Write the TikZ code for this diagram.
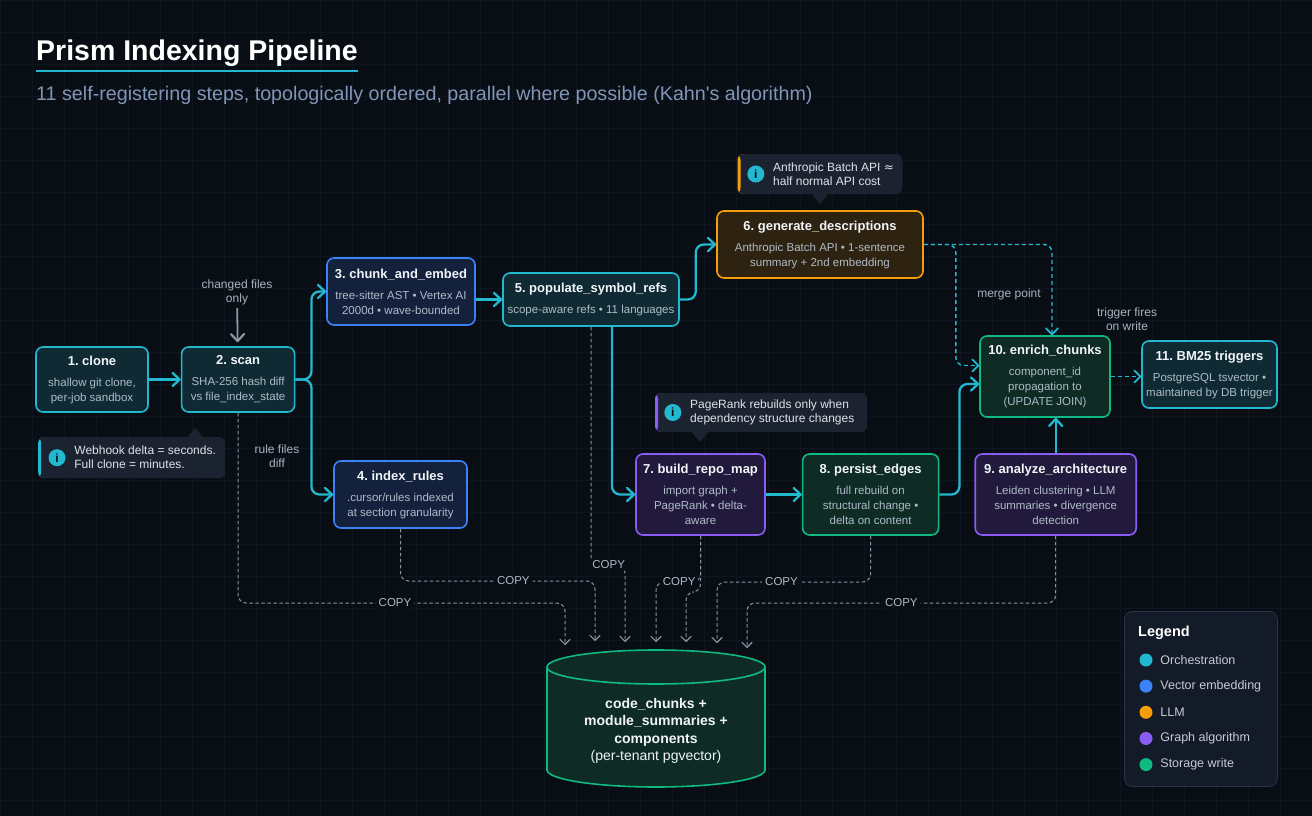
\documentclass[tikz,border=0pt]{standalone}
\usepackage{fontspec}
\setmainfont{Liberation Sans}
\newfontfamily\symfont{DejaVu Sans}
\usepackage{tikz}
\usetikzlibrary{positioning, arrows.meta}

\definecolor{bg}{HTML}{090D14}
\definecolor{gridc}{HTML}{0F1621}
\definecolor{orchc}{HTML}{22B8CF}
\definecolor{orchfill}{HTML}{0F2A33}
\definecolor{vecc}{HTML}{3B82F6}
\definecolor{vecfill}{HTML}{13213D}
\definecolor{llmc}{HTML}{F59E0B}
\definecolor{llmfill}{HTML}{2E2210}
\definecolor{graphc}{HTML}{8B5CF6}
\definecolor{graphfill}{HTML}{221A3C}
\definecolor{storec}{HTML}{10B981}
\definecolor{storefill}{HTML}{0E2B24}
\definecolor{headc}{HTML}{F1F5F9}
\definecolor{bodytxt}{HTML}{AEBBC8}
\definecolor{notec}{HTML}{A9B4C2}
\definecolor{hintc}{HTML}{8C97A8}
\definecolor{copyc}{HTML}{8A93A1}
\definecolor{copytxt}{HTML}{B0B9C6}
\definecolor{subc}{HTML}{8096B8}
\definecolor{tipfill}{HTML}{1C2330}
\definecolor{tiptxt}{HTML}{DCE3EA}
\definecolor{legfill}{HTML}{141B28}
\definecolor{legline}{HTML}{2B3546}
\definecolor{legtxt}{HTML}{C4CCD6}

\newcommand{\titlefont}{\fontsize{13}{16}\selectfont\bfseries}
\newcommand{\bodyfont}{\fontsize{11.5}{15}\selectfont}
\newcommand{\stepcontent}[2]{{\titlefont\color{headc}#1}\\[6pt]#2}

\begin{document}
\frenchspacing
\begin{tikzpicture}[x=1pt, y=-1pt,
    stepbox/.style={draw, rounded corners=7pt, line width=1.6pt, align=center, inner sep=4pt, text=bodytxt, font=\bodyfont},
    orchbox/.style={stepbox, draw=orchc, fill=orchfill},
    vecbox/.style={stepbox, draw=vecc, fill=vecfill},
    llmbox/.style={stepbox, draw=llmc, fill=llmfill},
    graphbox/.style={stepbox, draw=graphc, fill=graphfill},
    storebox/.style={stepbox, draw=storec, fill=storefill},
    flow/.style={draw=orchc, line width=2.3pt, rounded corners=8pt, -{Straight Barb[length=7pt,width=13pt,line width=2.3pt,round]}},
    hookflow/.style={draw=orchc, line width=1.4pt, rounded corners=8pt, dash pattern=on 4pt off 3pt, -{Straight Barb[length=6pt,width=12pt,line width=1.8pt,round]}},
    hint/.style={draw=hintc, line width=1.8pt, -{Straight Barb[length=7pt,width=13pt,line width=2.2pt,round]}, shorten >=4pt},
    copyline/.style={draw=copyc, line width=1pt, dash pattern=on 3.5pt off 2.5pt, rounded corners=8pt, -{Straight Barb[length=5pt,width=10pt,line width=1.2pt,round]}},
    copylbl/.style={fill=bg, text=copytxt, font=\fontsize{11.5}{13}\selectfont, inner sep=3pt},
    note/.style={text=notec, font=\fontsize{12}{14}\selectfont, align=center},
    tipbox/.style={fill=tipfill, rounded corners=6pt, path picture={\fill[#1] (path picture bounding box.north west) rectangle ([xshift=3pt]path picture bounding box.south west);}},
    info/.style={circle, fill=orchc, text=bg, inner sep=0pt, minimum size=17pt, font=\bfseries\fontsize{12}{12}\selectfont},
    tiptext/.style={text=tiptxt, font=\fontsize{12}{14}\selectfont, align=left, inner sep=0pt},
    legdot/.style={circle, fill=#1, minimum size=13pt, inner sep=0pt},
    legitem/.style={text=legtxt, font=\fontsize{12.5}{14}\selectfont, inner sep=0pt},
]
    % background and grid
    \fill[bg] (0,0) rectangle (1312,816);
    \useasboundingbox (0,0) rectangle (1312,816);
    \draw[gridc, line width=0.6pt] (0,0) grid[step=32pt] (1312,816);

    % heading
    \node (Title) [anchor=base west, inner sep=0pt, text=white, font=\fontsize{28.5}{32}\selectfont\bfseries] at (36,60) {Prism Indexing Pipeline};
    \draw[orchc, line width=2pt] ([yshift=-5pt]Title.south west) -- ([yshift=-5pt]Title.south east);
    \node (Sub) [anchor=west, inner sep=0pt, text=subc, font=\fontsize{19.7}{23}\selectfont] at (36,95) {11 self-registering steps, topologically ordered, parallel where possible (Kahn\textquotesingle s algorithm)};

    % steps
    \node (Clone) [orchbox, minimum width=112pt, minimum height=65pt] at (92,379.5) {\stepcontent{1. clone}{shallow git clone,\\per-job sandbox}};
    \node (Scan) [orchbox, minimum width=113pt, minimum height=65pt, right=32pt of Clone] {\stepcontent{2. scan}{SHA-256 hash diff\\vs file\_index\_state}};
    \node (Chunk) [vecbox, minimum width=148pt, minimum height=67pt] at (401,291.5) {\stepcontent{3. chunk\_and\_embed}{tree-sitter AST • Vertex AI\\2000d • wave-bounded}};
    \node (Rules) [vecbox, minimum width=133pt, minimum height=67pt] at (400.5,494.5) {\stepcontent{4. index\_rules}{.cursor/rules indexed\\at section granularity}};
    \node (Refs) [orchbox, minimum width=176pt, minimum height=53pt] at (591,299.5) {\stepcontent{5. populate\_symbol\_refs}{scope-aware refs • 11 languages}};
    \node (Desc) [llmbox, minimum width=206pt, minimum height=67pt] at (820,244.5) {\stepcontent{6. generate\_descriptions}{Anthropic Batch API • 1-sentence\\summary + 2nd embedding}};
    \node (RepoMap) [graphbox, minimum width=129pt, minimum height=81pt] at (700.5,494.5) {\stepcontent{7. build\_repo\_map}{import graph +\\PageRank • delta-\\aware}};
    \node (Edges) [storebox, minimum width=136pt, minimum height=81pt, right=36pt of RepoMap] {\stepcontent{8. persist\_edges}{full rebuild on\\structural change •\\delta on content}};
    \node (Arch) [graphbox, minimum width=161pt, minimum height=81pt, right=35pt of Edges] {\stepcontent{9. analyze\_architecture}{Leiden clustering • LLM\\summaries • divergence\\detection}};
    \node (Enrich) [storebox, minimum width=130pt, minimum height=81pt] at (1045,376.5) {\stepcontent{10. enrich\_chunks}{component\_id\\propagation to\\(UPDATE JOIN)}};
    \node (BM25) [orchbox, minimum width=135pt, minimum height=67pt] at (1209.5,374.5) {\stepcontent{11. BM25 triggers}{PostgreSQL tsvector •\\maintained by DB trigger}};

    % notes
    \node (Changed) [note] at (237,292) {changed files\\only};
    \node (RuleNote) [note] at (277,456) {rule files\\diff};
    \node (Merge) [note] at (1009,294) {merge point};
    \node (Trigger) [note] at (1127,319) {trigger fires\\on write};

    % main flow
    \draw[hint] (Changed) -- (Scan);
    \draw[flow] (Clone) -- (Scan);
    \draw[flow] (Scan.east) -- ++(16,0) |- (Chunk.west);
    \draw[flow] (Scan.east) -- ++(16,0) |- (Rules.west);
    \draw[flow] (Chunk.east |- Refs.west) -- (Refs.west);
    \draw[flow] (Refs.east) -- ++(16,0) |- (Desc.west);
    \draw[flow] ([xshift=21pt]Refs.south) |- (RepoMap.west);
    \draw[flow] (RepoMap) -- (Edges);
    \draw[flow] (Edges.east) -- ++(20,0) |- ([yshift=-7.5pt]Enrich.west);
    \draw[flow] (Arch.north) -- (Arch.north |- Enrich.south);
    \draw[hookflow] (Desc.east) -| ([xshift=7pt]Enrich.north);
    \draw[hookflow] (Desc.east) -- ++(32,0) |- ([yshift=11pt]Enrich.west);
    \draw[hookflow] (Enrich.east) -- (Enrich.east -| BM25.west);

    % storage
    \filldraw[draw=storec, fill=storefill, line width=1.6pt] (547,667) -- (547,770) arc[start angle=180, end angle=360, x radius=109pt, y radius=17pt] -- (765,667) arc[start angle=0, end angle=180, x radius=109pt, y radius=17pt] -- cycle;
    \draw[storec, line width=1.6pt] (547,667) arc[start angle=180, end angle=360, x radius=109pt, y radius=17pt];
    \node (DB) [align=center, text=headc, font=\fontsize{14}{17.5}\selectfont\bfseries] at (656,731) {code\_chunks +\\module\_summaries +\\components\\{\mdseries (per-tenant pgvector)}};

    \coordinate (In1) at (565,645);
    \coordinate (In2) at (595,641);
    \coordinate (In3) at (625,642);
    \coordinate (In4) at (656,642);
    \coordinate (In5) at (686,642);
    \coordinate (In6) at (717,643);
    \coordinate (In7) at (747,648);
    \draw[copyline] (Scan.south) |- node[copylbl, pos=0.74] {COPY} ([yshift=42pt]In1) -- (In1);
    \draw[copyline] (Rules.south) |- node[copylbl, pos=0.79] {COPY} ([yshift=60pt]In2) -- (In2);
    \draw[copyline] (Refs.south) |- node[copylbl, pos=0.76] {COPY} ([yshift=77pt]In3) -- (In3);
    \draw[copyline] (RepoMap.south) |- node[copylbl, pos=0.74] {COPY} ([yshift=60pt]In4) -- (In4);
    \draw[copyline] (RepoMap.south) |- ([yshift=50pt]In5) -- (In5);
    \draw[copyline] (Edges.south) |- node[copylbl, pos=0.79] {COPY} ([yshift=61pt]In6) -- (In6);
    \draw[copyline] (Arch.south) |- node[copylbl, pos=0.75] {COPY} ([yshift=45pt]In7) -- (In7);

    % tips
    \node (HookTip) [tipbox=orchc, minimum width=187pt, minimum height=41pt, anchor=north west] at (38,437) {};
    \fill[tipfill] ([xshift=56pt]HookTip.north) -- ([xshift=63.5pt,yshift=9pt]HookTip.north) -- ([xshift=71pt]HookTip.north) -- cycle;
    \node (HookIcon) [info] at ([xshift=19pt]HookTip.west) {i};
    \node (HookText) [tiptext, right=8.5pt of HookIcon] {Webhook delta = seconds.\\Full clone = minutes.};

    \node (DescTip) [tipbox=llmc, minimum width=165pt, minimum height=40pt, above=16pt of Desc] {};
    \fill[tipfill] ([xshift=-8pt]DescTip.south) -- ([yshift=-10pt]DescTip.south) -- ([xshift=8pt]DescTip.south) -- cycle;
    \node (DescIcon) [info] at ([xshift=18.5pt]DescTip.west) {i};
    \node (DescText) [tiptext, right=8.5pt of DescIcon] {Anthropic Batch API {\symfont ≈}\\half normal API cost};

    \node (RankTip) [tipbox=graphc, minimum width=212pt, minimum height=39pt] at (761,412.5) {};
    \fill[tipfill] ([xshift=-69pt]RankTip.south) -- ([xshift=-61pt,yshift=-10pt]RankTip.south) -- ([xshift=-53pt]RankTip.south) -- cycle;
    \node (RankIcon) [info] at ([xshift=18pt]RankTip.west) {i};
    \node (RankText) [tiptext, right=8.5pt of RankIcon] {PageRank rebuilds only when\\dependency structure changes};

    % legend
    \node (Legend) [draw=legline, fill=legfill, rounded corners=8pt, line width=0.8pt, minimum width=153pt, minimum height=175pt, anchor=north west] at (1124,611) {};
    \node (LegTitle) [anchor=west, inner sep=0pt, text=white, font=\fontsize{14.5}{16}\selectfont\bfseries] at ([xshift=14pt,yshift=-22pt]Legend.north west) {Legend};
    \node (DotOrch) [legdot=orchc] at ([xshift=22pt,yshift=-49pt]Legend.north west) {};
    \node (DotVec) [legdot=vecc, below=12.75pt of DotOrch] {};
    \node (DotLlm) [legdot=llmc, below=12.75pt of DotVec] {};
    \node (DotGraph) [legdot=graphc, below=12.75pt of DotLlm] {};
    \node (DotStore) [legdot=storec, below=12.75pt of DotGraph] {};
    \node [legitem, right=7.5pt of DotOrch] {Orchestration};
    \node [legitem, right=7.5pt of DotVec] {Vector embedding};
    \node [legitem, right=7.5pt of DotLlm] {LLM};
    \node [legitem, right=7.5pt of DotGraph] {Graph algorithm};
    \node [legitem, right=7.5pt of DotStore] {Storage write};
\end{tikzpicture}
\end{document}
